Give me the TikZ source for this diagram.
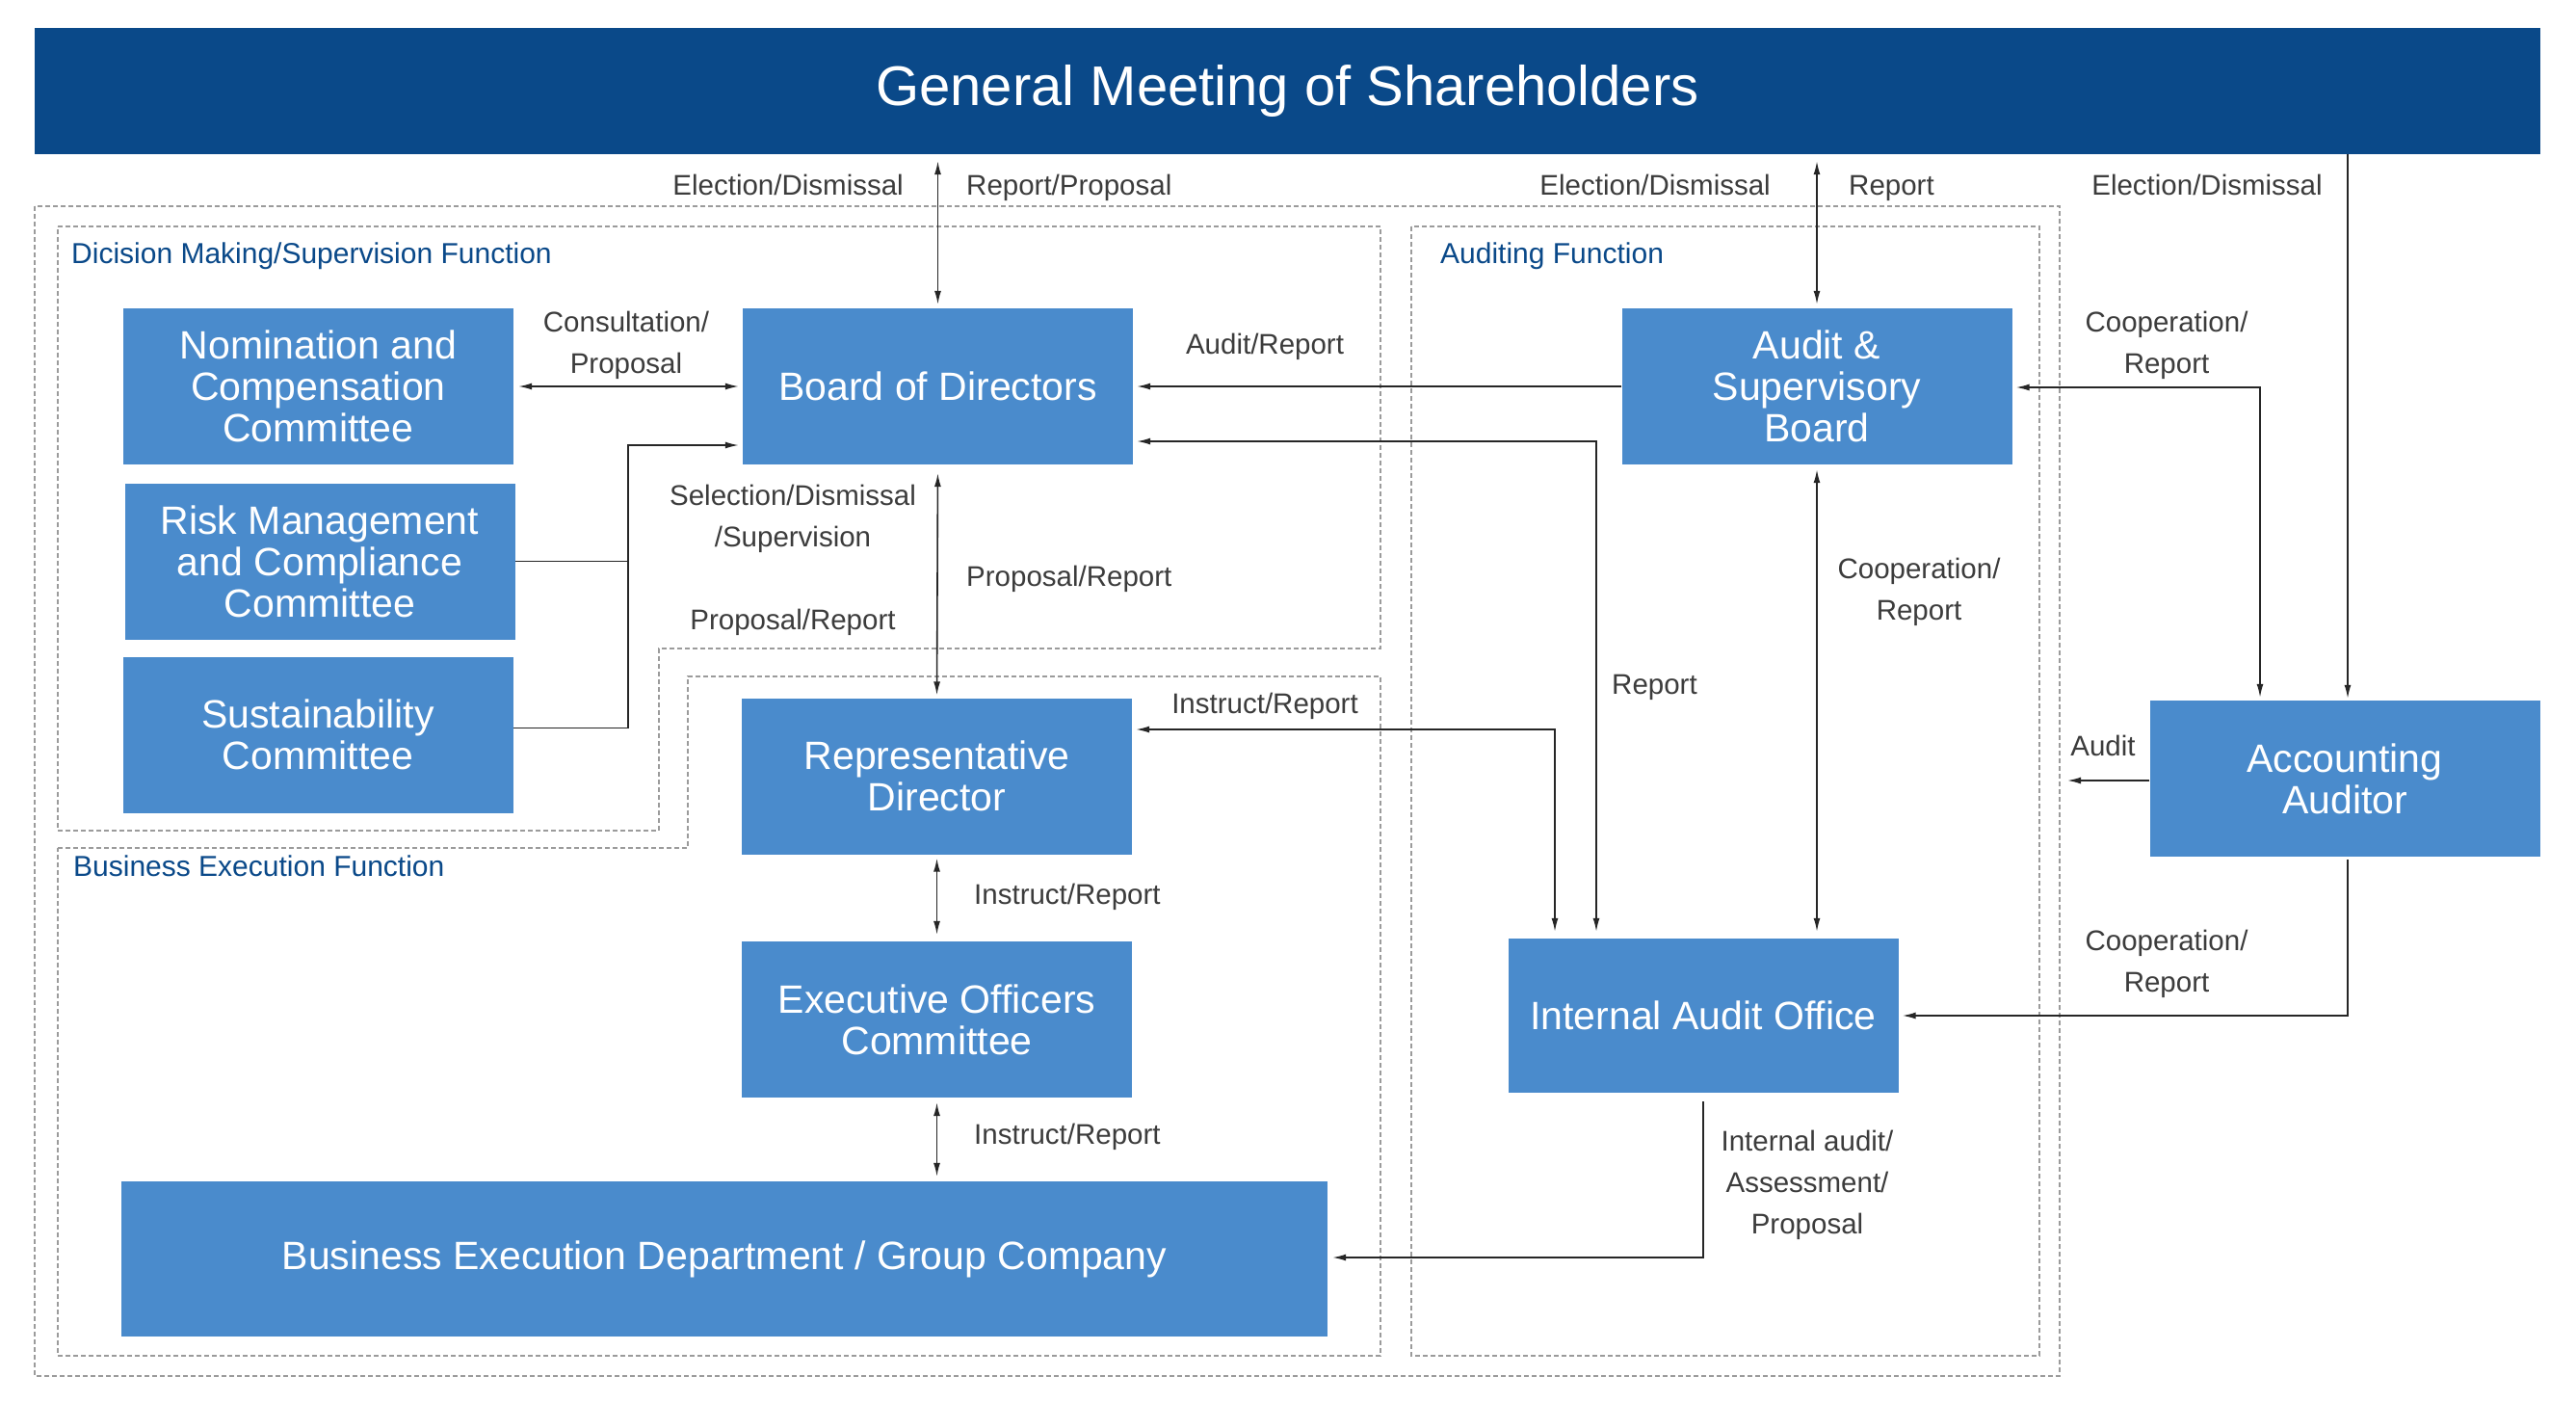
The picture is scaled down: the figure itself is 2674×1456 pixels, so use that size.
\documentclass[tikz,border=0pt]{standalone}
\usepackage{fontspec}
\setmainfont{Liberation Sans}
\usetikzlibrary{arrows.meta,calc}
\definecolor{hdr}{RGB}{10,73,137}
\definecolor{boxc}{RGB}{74,139,204}
\definecolor{lbl}{RGB}{60,60,60}
\definecolor{frame}{RGB}{155,155,155}
\begin{document}
\begin{tikzpicture}[x=1pt,y=-1pt,
  blk/.style={rectangle, fill=boxc, text=white, minimum width=405pt, minimum height=162pt, inner sep=0pt, align=center, font=\fontsize{41}{43}\selectfont},
  lab/.style={text=lbl, font=\fontsize{29.5}{43}\selectfont, align=center, inner sep=0pt},
  lab1/.style={text=lbl, font=\fontsize{29.5}{43}\selectfont, inner sep=0pt, text height=21pt, text depth=0pt},
  sect/.style={text=hdr, font=\fontsize{30}{34}\selectfont, anchor=west, inner sep=0pt, text height=21pt, text depth=0pt},
  cont/.style={draw=frame, line width=1.3pt, dash pattern=on 5pt off 3pt},
  con/.style={line width=1.6pt, draw=black!85},
  arr/.style={-{Latex[length=14pt,width=7pt]}},
  darr/.style={{Latex[length=14pt,width=7pt]}-{Latex[length=14pt,width=7pt]}},
]
\useasboundingbox (0,0) rectangle (2674,1456);
\fill[white] (0,0) rectangle (2674,1456);

% containers
\draw[cont] (36,214) rectangle (2138,1428);
\draw[cont] (60,235) -- (1433,235) -- (1433,673) -- (684,673) -- (684,862) -- (60,862) -- cycle;
\draw[cont] (60,880) -- (714,880) -- (714,702) -- (1433,702) -- (1433,1407) -- (60,1407) -- cycle;
\draw[cont] (1465,235) rectangle (2117,1407);

\node[sect] (t1) at (74,263) {Dicision Making/Supervision Function};
\node[sect] (t2) at (1495,263) {Auditing Function};
\node[sect] (t3) at (76,899) {Business Execution Function};

% header
\node[rectangle, fill=hdr, text=white, minimum width=2601pt, minimum height=131pt, inner sep=0pt, font=\fontsize{58}{64}\selectfont] (gm) at (1336.5,94.5) {General Meeting of Shareholders};

% boxes
\node[blk] (nom) at (330.5,401) {Nomination and\\Compensation\\Committee};
\node[blk] (risk) at (332,582.5) {Risk Management\\and Compliance\\Committee};
\node[blk] (sus) at (330,762.5) {Sustainability\\Committee};
\node[blk] (bod) at (973.5,401) {Board of Directors};
\node[blk] (rep) at (972.5,805.5) {Representative\\Director};
\node[blk] (exe) at (972.5,1058) {Executive Officers\\Committee};
\node[blk, minimum width=1252pt, minimum height=161pt] (bed) at (752,1306.5) {Business Execution Department / Group Company};
\node[blk] (asb) at (1886,401) {Audit \&\\Supervisory\\Board};
\node[blk, minimum height=160pt] (iao) at (1768,1054) {Internal Audit Office};
\node[blk] (acc) at (2434,808) {Accounting\\Auditor};

% coordinates
\coordinate (jn) at (652,462);
\coordinate (c10) at (1657,458);
\coordinate (c11) at (1614,757);
\coordinate (c13) at (2346,402);
\coordinate (c14) at (2146,810);
\coordinate (c15) at (2437,1054);
\coordinate (c16) at (1767,1305);
\coordinate (c3) at (2437,0);

% connectors
\draw[con,darr,shorten <=7pt,shorten >=4pt] (bod.north |- gm.south) -- (bod.north);
\draw[con,darr,shorten <=7pt,shorten >=4pt] (asb.north |- gm.south) -- (asb.north);
\draw[con,arr,shorten >=2pt] (c3 |- gm.south) -- (c3 |- acc.north);
\draw[con,darr,shorten <=5pt,shorten >=4pt] (nom.east) -- (bod.west);
\draw[con] (risk.east) -- (risk.east -| jn);
\draw[con,arr,shorten >=4pt] ($(sus.east)+(0,-7)$) -| (jn) -- (bod.west |- jn);
\draw[con,darr,shorten <=9pt,shorten >=3pt] (bod.south) -- (rep.north);
\draw[con,darr,shorten <=4pt,shorten >=7pt] (rep.south) -- (exe.north);
\draw[con,darr,shorten <=5pt,shorten >=5pt] (exe.south) -- (exe.south |- bed.north);
\draw[con,arr,shorten >=4pt] (asb.west) -- (bod.east);
\draw[con,darr,shorten <=7pt,shorten >=4pt] (iao.north -| c10) -- (c10) -- (bod.east |- c10);
\draw[con,darr,shorten <=4pt,shorten >=7pt] (rep.east |- c11) -- (c11) -- (c11 |- iao.north);
\draw[con,darr,shorten <=5pt,shorten >=7pt] (asb.south) -- (asb.south |- iao.north);
\draw[con,darr,shorten <=3pt,shorten >=4pt] (acc.north -| c13) -- (c13) -- (asb.east |- c13);
\draw[con,arr] (acc.west |- c14) -- (c14);
\draw[con,arr,shorten <=3pt,shorten >=4pt] (acc.south -| c15) -- (c15) -- (iao.east |- c15);
\draw[con,arr,shorten <=9pt,shorten >=5pt] (iao.south) -- (iao.south |- c16) -- (bed.east |- c16);

% labels
\node[lab1,anchor=east] (l1) at (938,192) {Election/Dismissal};
\node[lab1,anchor=west] (l2) at (1003,192) {Report/Proposal};
\node[lab1,anchor=east] (l3) at (1838,192) {Election/Dismissal};
\node[lab1,anchor=west] (l4) at (1919,192) {Report};
\node[lab1] (l5) at (2291,192) {Election/Dismissal};
\node[lab] (l6) at (650,358) {Consultation/\\Proposal};
\node[lab1] (l7) at (1313,357) {Audit/Report};
\node[lab] (l8) at (2249,358) {Cooperation/\\Report};
\node[lab] (l9) at (823,538) {Selection/Dismissal\\/Supervision};
\node[lab1,anchor=west] (l10) at (1003,598) {Proposal/Report};
\node[lab1] (l11) at (823,643) {Proposal/Report};
\node[lab] (l12) at (1992,614) {Cooperation/\\Report};
\node[lab1,anchor=west] (l13) at (1673,710) {Report};
\node[lab1] (l14) at (1313,730) {Instruct/Report};
\node[lab1] (l15) at (2183,774) {Audit};
\node[lab1,anchor=west] (l16) at (1011,928) {Instruct/Report};
\node[lab1,anchor=west] (l17) at (1011,1177) {Instruct/Report};
\node[lab] (l18) at (2249,1000) {Cooperation/\\Report};
\node[lab] (l19) at (1876,1230) {Internal audit/\\Assessment/\\Proposal};
\end{tikzpicture}
\end{document}
